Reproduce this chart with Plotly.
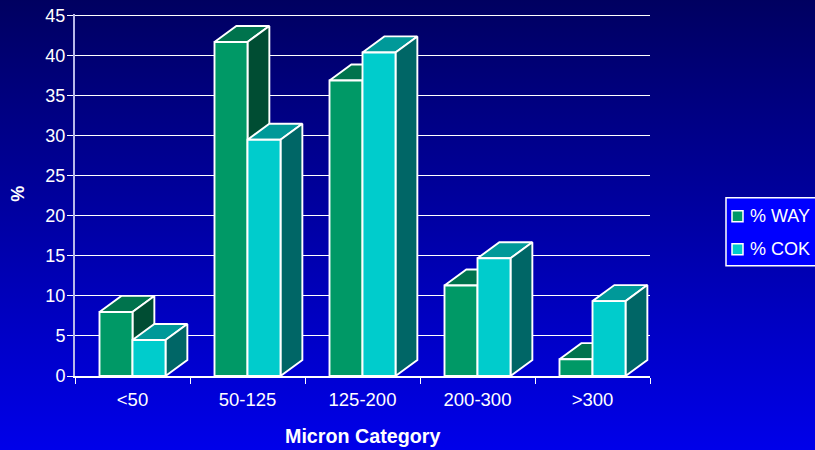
import base64
import plotly.graph_objects as go

categories = ["<50", "50-125", "125-200", "200-300", ">300"]
way_values = [8.0, 41.7, 36.9, 11.3, 2.1]
cok_values = [4.5, 29.5, 40.4, 14.7, 9.35]
y_ticks = [0, 5, 10, 15, 20, 25, 30, 35, 40, 45]
series_names = ["% WAY", "% COK"]

FONT = "Liberation Sans, Arial, sans-serif"
BAR_W = 0.287      # category units
DX = 0.19          # depth, category units
DY = 2.0           # depth, value units
W, H = 815, 450
L, R, T, B = 75, 165, 13.9, 73.5
PW, PH = W - L - R, H - T - B

styles = [
    dict(front="#009966", top="#00734D", side="#004D33"),
    dict(front="#00CCCC", top="#009999", side="#006666"),
]
edge = dict(color="#FFFFFF", width=1.9)

fig = go.Figure()


def face(xs, ys, fill, name):
    fig.add_trace(go.Scatter(
        x=xs, y=ys, mode="lines", fill="toself", fillcolor=fill, line=edge,
        showlegend=False, hoverinfo="skip", name=name,
    ))


for s, vals in enumerate([way_values, cok_values]):
    st = styles[s]
    for i, v in enumerate(vals):
        x0 = i + (s - 1) * BAR_W
        x1 = x0 + BAR_W
        face([x0, x0 + DX, x1 + DX, x1, x0], [v, v + DY, v + DY, v, v], st["top"], series_names[s])
        face([x1, x1 + DX, x1 + DX, x1, x1], [0, DY, v + DY, v, 0], st["side"], series_names[s])
        face([x0, x0, x1, x1, x0], [0, v, v, 0, 0], st["front"], series_names[s])

grad = (
    f'<svg xmlns="http://www.w3.org/2000/svg" width="{W}" height="{H}" preserveAspectRatio="none">'
    '<defs><linearGradient id="g" x1="0" y1="0" x2="0" y2="1">'
    '<stop offset="0" stop-color="#000060"/><stop offset="1" stop-color="#0000EA"/>'
    '</linearGradient></defs>'
    f'<rect width="{W}" height="{H}" fill="url(#g)"/></svg>'
)
grad_uri = "data:image/svg+xml;base64," + base64.b64encode(grad.encode()).decode()


def px(x):
    return (x - L) / PW


def py(y):
    return 1 - (y - T) / PH


shapes = [dict(type="rect", xref="paper", yref="paper", x0=px(726), x1=px(818), y0=py(198), y1=py(266),
               fillcolor="#0000FF", line=dict(color="#FFFFFF", width=1.5))]
annots = []
for k, (nm, yc) in enumerate(zip(series_names, [216.5, 249.5])):
    shapes.append(dict(type="rect", xref="paper", yref="paper", x0=px(732), x1=px(743),
                       y0=py(yc - 5.5), y1=py(yc + 5.5), fillcolor=styles[k]["front"],
                       line=dict(color="#FFFFFF", width=1.5)))
    annots.append(dict(text=nm, xref="paper", yref="paper", x=px(748), y=py(yc), xanchor="left",
                       yanchor="middle", showarrow=False, font=dict(family=FONT, size=18, color="#FFFFFF")))
annots.append(dict(text="<b>Micron Category</b>", xref="paper", yref="paper", x=px(362), y=py(436.5),
                   xanchor="center", yanchor="middle", showarrow=False,
                   font=dict(family=FONT, size=19.7, color="#FFFFFF")))
annots.append(dict(text="<b>%</b>", xref="paper", yref="paper", x=px(18), y=py(194), textangle=-90,
                   xanchor="center", yanchor="middle", showarrow=False,
                   font=dict(family=FONT, size=18, color="#FFFFFF")))

fig.update_layout(
    width=W, height=H, autosize=False, showlegend=False,
    margin=dict(l=L, r=R, t=T, b=B, pad=0, autoexpand=False),
    paper_bgcolor="rgba(0,0,0,0)", plot_bgcolor="rgba(0,0,0,0)",
    font=dict(family=FONT, size=18, color="#FFFFFF"),
    images=[dict(source=grad_uri, xref="paper", yref="paper", x=px(0), y=py(-2),
                 sizex=W / PW, sizey=(H + 4) / PH, sizing="stretch", xanchor="left", yanchor="top", layer="below")],
    shapes=shapes, annotations=annots,
    xaxis=dict(range=[-0.5, 4.5], tickmode="array", tickvals=list(range(len(categories))), ticktext=categories,
               ticks="", showgrid=False, zeroline=False, showline=True, linecolor="#FFFFFF", linewidth=1.5,
               ticklabelstandoff=6,
               tickfont=dict(family=FONT, size=18.5, color="#FFFFFF"),
               minor=dict(tickmode="array", tickvals=[i - 0.5 for i in range(len(categories) + 1)],
                          ticks="outside", ticklen=6, tickcolor="#FFFFFF", tickwidth=1.2, showgrid=False)),
    yaxis=dict(range=[0, 45.2], tickmode="array", tickvals=y_ticks, ticks="outside", ticklen=6, tickcolor="#FFFFFF",
               tickwidth=1.2, showgrid=True, gridcolor="#FFFFFF", gridwidth=1.2, zeroline=False,
               showline=True, linecolor="#B8B8E8", linewidth=2, ticklabelstandoff=-2,
               tickfont=dict(family=FONT, size=18, color="#FFFFFF")),
)

fig.write_html("out.html", config=dict(displayModeBar=False),
               post_script="document.body.style.margin='0';document.body.style.background='#0000EA';document.documentElement.style.overflow='hidden';")
